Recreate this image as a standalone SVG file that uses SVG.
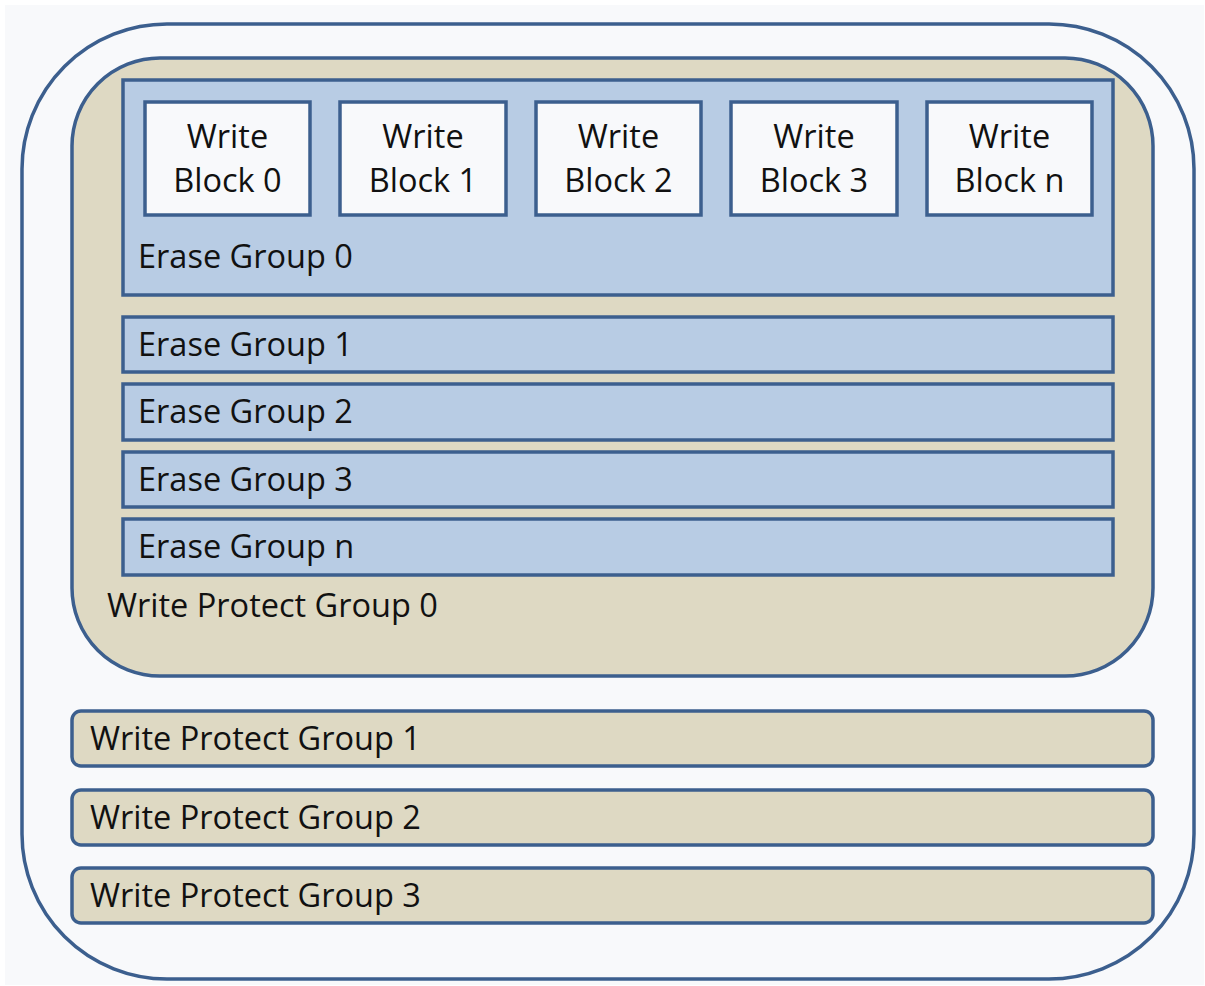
<svg xmlns="http://www.w3.org/2000/svg" width="1205" height="986" viewBox="0 0 1205 986">
  <style>
    .ln { stroke: #3c5f8e; stroke-width: 3.5; }
    .card { fill: #f8f9fb; }
    .wp { fill: #ded9c3; }
    .eg { fill: #b8cce4; }
    .t { font-family: "Open Sans", "Noto Sans", sans-serif; font-size: 32.5px; fill: #111; }
    .c { text-anchor: middle; }
  </style>
  <rect x="0" y="0" width="1205" height="986" fill="#ffffff"/>
  <rect x="5" y="5" width="1199" height="980" fill="#f8f9fb"/>

  <g id="card">
    <rect class="ln card" x="22" y="24" width="1172" height="955" rx="145" ry="145"/>
  </g>

  <g id="wpg0">
    <rect class="ln wp" x="72" y="58" width="1081" height="618" rx="88" ry="88"/>
    <text class="t" x="107" y="617">Write Protect Group 0</text>
  </g>

  <g id="eg0">
    <rect class="ln eg" x="123" y="80" width="990" height="215"/>
    <text class="t" x="138" y="268">Erase Group 0</text>
  </g>

  <g id="wb0">
    <rect class="ln card" x="145" y="102" width="165" height="113"/>
    <text class="t c" x="227.5" y="148">Write</text>
    <text class="t c" x="227.5" y="192">Block 0</text>
  </g>
  <g id="wb1">
    <rect class="ln card" x="340" y="102" width="166" height="113"/>
    <text class="t c" x="423" y="148">Write</text>
    <text class="t c" x="423" y="192">Block 1</text>
  </g>
  <g id="wb2">
    <rect class="ln card" x="536" y="102" width="165" height="113"/>
    <text class="t c" x="618.5" y="148">Write</text>
    <text class="t c" x="618.5" y="192">Block 2</text>
  </g>
  <g id="wb3">
    <rect class="ln card" x="731" y="102" width="166" height="113"/>
    <text class="t c" x="814" y="148">Write</text>
    <text class="t c" x="814" y="192">Block 3</text>
  </g>
  <g id="wbn">
    <rect class="ln card" x="927" y="102" width="165" height="113"/>
    <text class="t c" x="1009.5" y="148">Write</text>
    <text class="t c" x="1009.5" y="192">Block n</text>
  </g>

  <g id="eg1">
    <rect class="ln eg" x="123" y="317" width="990" height="55"/>
    <text class="t" x="138" y="356">Erase Group 1</text>
  </g>
  <g id="eg2">
    <rect class="ln eg" x="123" y="384" width="990" height="56"/>
    <text class="t" x="138" y="423">Erase Group 2</text>
  </g>
  <g id="eg3">
    <rect class="ln eg" x="123" y="452" width="990" height="55"/>
    <text class="t" x="138" y="491">Erase Group 3</text>
  </g>
  <g id="egn">
    <rect class="ln eg" x="123" y="519" width="990" height="56"/>
    <text class="t" x="138" y="558">Erase Group n</text>
  </g>

  <g id="wpg1">
    <rect class="ln wp" x="72" y="711" width="1081" height="55" rx="9" ry="9"/>
    <text class="t" x="90" y="750">Write Protect Group 1</text>
  </g>
  <g id="wpg2">
    <rect class="ln wp" x="72" y="790" width="1081" height="55" rx="9" ry="9"/>
    <text class="t" x="90" y="829">Write Protect Group 2</text>
  </g>
  <g id="wpg3">
    <rect class="ln wp" x="72" y="868" width="1081" height="55" rx="9" ry="9"/>
    <text class="t" x="90" y="907">Write Protect Group 3</text>
  </g>

  <g id="connectors"/>
</svg>
